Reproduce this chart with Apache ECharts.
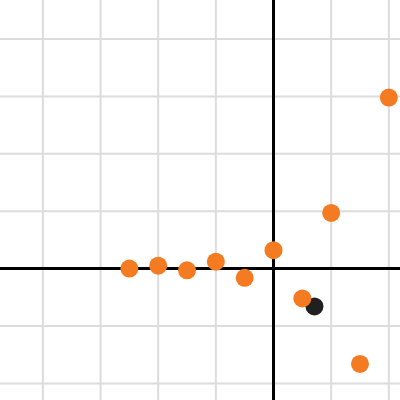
<!DOCTYPE html>
<html>
<head>
<meta charset="utf-8">
<script src="https://cdn.jsdelivr.net/npm/echarts@6/dist/echarts.min.js"></script>
<style>html,body{margin:0;padding:0;background:#fff;}#c{width:400px;height:400px;}</style>
</head>
<body>
<div id="c"></div>
<script>
// Orange points (x, y)
const orangeX = [-2.5, -2, -1.5, -1, -0.5, 0, 0.5, 1, 1.5, 2];
const orangeY = [0, 0.05, -0.03, 0.12, -0.16, 0.32, -0.52, 0.97, -1.66, 2.98];
// Black point
const blackX = [0.71];
const blackY = [-0.66];
// Grid line positions
const xTicks = [-4, -3, -2, -1, 0, 1, 2];
const yTicks = [-2, -1, 0, 1, 2, 3, 4];
// Visible window
const xRange = [-4.744, 2.194];
const yRange = [-2.289, 4.679];

const chart = echarts.init(document.getElementById('c'), null, {renderer: 'canvas'});

const gridSeries = [];
xTicks.forEach(t => gridSeries.push({
  type: 'line', data: [[t, yRange[0]], [t, yRange[1]]], symbol: 'none', z: 0, silent: true,
  lineStyle: {color: '#dcdcdc', width: 2}
}));
yTicks.forEach(t => gridSeries.push({
  type: 'line', data: [[xRange[0], t], [xRange[1], t]], symbol: 'none', z: 0, silent: true,
  lineStyle: {color: '#dcdcdc', width: 2}
}));

chart.setOption({
  animation: false,
  backgroundColor: '#ffffff',
  grid: {left: 0, top: 0, right: 0, bottom: 0, show: false},
  xAxis: {
    type: 'value', min: xRange[0], max: xRange[1],
    axisLine: {show: false}, axisTick: {show: false}, axisLabel: {show: false},
    splitLine: {show: false}
  },
  yAxis: {
    type: 'value', min: yRange[0], max: yRange[1],
    axisLine: {show: false}, axisTick: {show: false}, axisLabel: {show: false},
    splitLine: {show: false}
  },
  series: gridSeries.concat([
    {type: 'line', data: [[xRange[0], 0], [xRange[1], 0]], symbol: 'none', z: 1,
     lineStyle: {color: '#000', width: 3}, silent: true},
    {type: 'line', data: [[0, yRange[0]], [0, yRange[1]]], symbol: 'none', z: 1,
     lineStyle: {color: '#000', width: 3}, silent: true},
    {type: 'scatter', z: 2, symbolSize: 18,
     data: blackX.map((x, i) => [x, blackY[i]]),
     itemStyle: {color: '#202020', opacity: 1}},
    {type: 'scatter', z: 3, symbolSize: 18,
     data: orangeX.map((x, i) => [x, orangeY[i]]),
     itemStyle: {color: '#f47b21', opacity: 1}}
  ])
});
</script>
</body>
</html>
